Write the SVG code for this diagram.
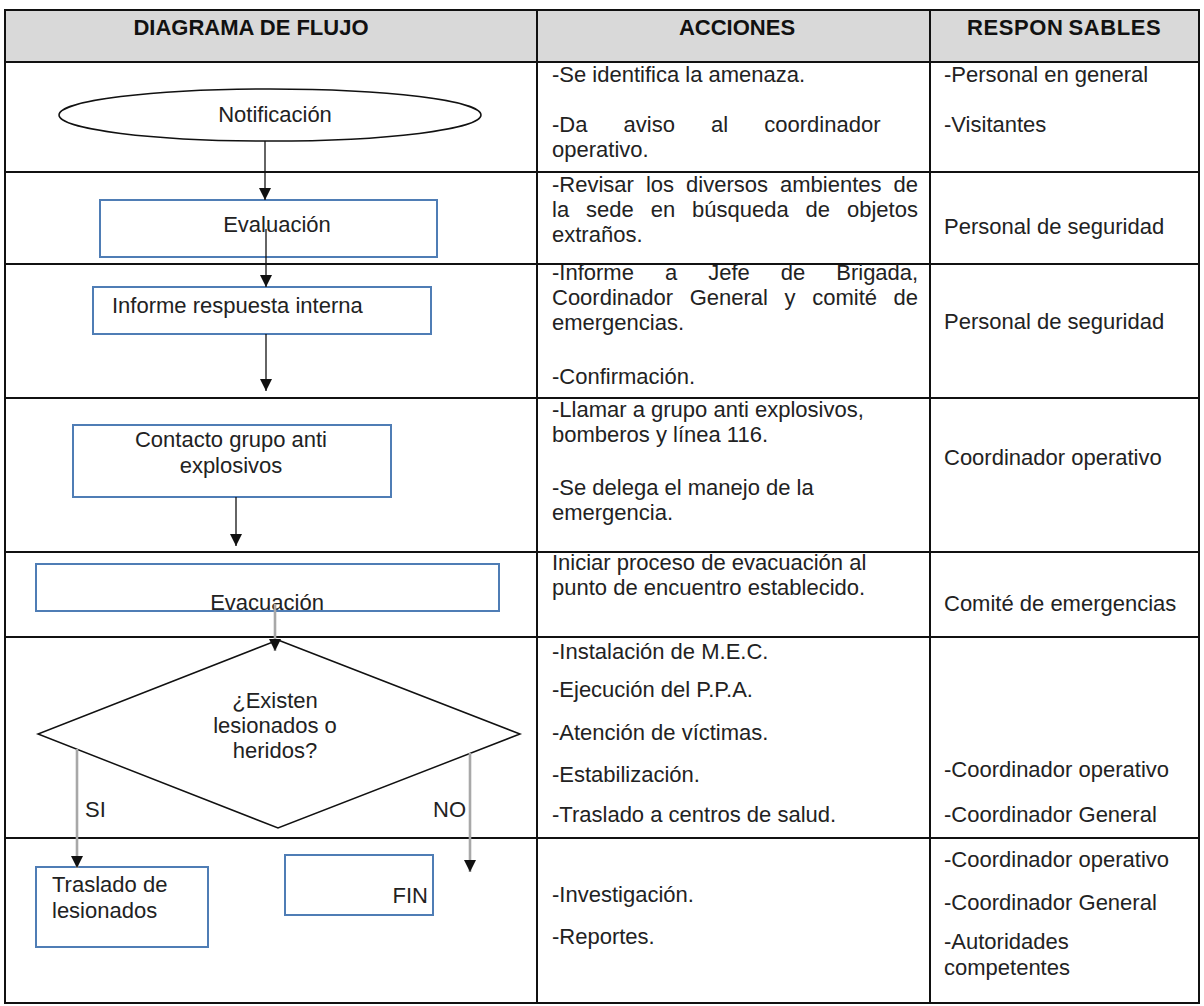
<svg xmlns="http://www.w3.org/2000/svg" width="1204" height="1006" viewBox="0 0 1204 1006">
  <style>
    text { font-family: "Liberation Sans", Arial, sans-serif; font-size: 22px; fill: #222; }
    .hd { font-weight: bold; fill: #111; }
    .grid { stroke: #111; stroke-width: 2; fill: none; }
    .box { fill: #fff; stroke: #4f7db5; stroke-width: 2; }
    .shape { fill: #fff; stroke: #111; stroke-width: 1.5; }
    .flow { stroke: #111; stroke-width: 1.3; fill: none; marker-end: url(#tip); }
    .flow-gray { stroke: #a8a8a8; stroke-width: 2.6; fill: none; marker-end: url(#tip); }
    .mid { text-anchor: middle; }
  </style>
  <defs>
    <marker id="tip" markerUnits="userSpaceOnUse" markerWidth="12" markerHeight="14" refX="12" refY="6" orient="auto">
      <path d="M0,0 L12,6 L0,12 z" fill="#111"/>
    </marker>
  </defs>

  <rect width="1204" height="1006" fill="#fff"/>

  <!-- table frame -->
  <g id="table">
    <rect x="5" y="10" width="1194" height="52" fill="#d9d9d9"/>
    <rect class="grid" x="5" y="10" width="1194" height="993"/>
    <line class="grid" x1="5" y1="62" x2="1199" y2="62"/>
    <line class="grid" x1="5" y1="172" x2="1199" y2="172"/>
    <line class="grid" x1="5" y1="264" x2="1199" y2="264"/>
    <line class="grid" x1="5" y1="398" x2="1199" y2="398"/>
    <line class="grid" x1="5" y1="552" x2="1199" y2="552"/>
    <line class="grid" x1="5" y1="637" x2="1199" y2="637"/>
    <line class="grid" x1="5" y1="838" x2="1199" y2="838"/>
    <line class="grid" x1="537" y1="10" x2="537" y2="1003"/>
    <line class="grid" x1="930" y1="10" x2="930" y2="1003"/>
    <text class="hd mid" x="251" y="35">DIAGRAMA DE FLUJO</text>
    <text class="hd mid" x="737" y="35">ACCIONES</text>
    <text class="hd" x="967" y="35" letter-spacing="0.6">RESPON<tspan dx="5">SABLES</tspan></text>
  </g>

  <!-- flow nodes -->
  <g id="n-notificacion">
    <ellipse class="shape" cx="270" cy="115" rx="211" ry="26"/>
    <text class="mid" x="275" y="122">Notificación</text>
  </g>
  <g id="n-evaluacion">
    <rect class="box" x="100" y="200" width="337" height="57"/>
    <text class="mid" x="277" y="232">Evaluación</text>
  </g>
  <g id="n-informe">
    <rect class="box" x="93" y="287" width="338" height="47"/>
    <text x="112" y="313">Informe respuesta interna</text>
  </g>
  <g id="n-contacto">
    <rect class="box" x="73" y="425" width="318" height="72"/>
    <text class="mid" x="231" y="447">Contacto grupo anti</text>
    <text class="mid" x="231" y="473">explosivos</text>
  </g>
  <g id="n-evacuacion">
    <rect class="box" x="36" y="564" width="463" height="47"/>
    <text class="mid" x="267" y="610">Evacuación</text>
  </g>
  <g id="n-decision">
    <polygon class="shape" points="278,640 520,734 278,828 38,734"/>
    <text class="mid" x="275" y="708">¿Existen</text>
    <text class="mid" x="275" y="733">lesionados o</text>
    <text class="mid" x="275" y="758">heridos?</text>
  </g>
  <g id="n-traslado">
    <rect class="box" x="36" y="867" width="172" height="80"/>
    <text x="52" y="892">Traslado de</text>
    <text x="52" y="918">lesionados</text>
  </g>
  <g id="n-fin">
    <rect class="box" x="285" y="855" width="148" height="60"/>
    <text x="428" y="903" text-anchor="end">FIN</text>
  </g>

  <!-- connectors, drawn over the nodes they pass through -->
  <g id="connectors">
    <line class="flow" x1="265" y1="141" x2="265" y2="200"/>
    <line class="flow" x1="266" y1="229" x2="266" y2="287"/>
    <line class="flow" x1="266" y1="334" x2="266" y2="391"/>
    <line class="flow" x1="236" y1="497" x2="236" y2="546"/>
    <line class="flow-gray" x1="275" y1="604" x2="275" y2="651"/>
    <line class="flow-gray" x1="77" y1="749" x2="77" y2="868"/>
    <line class="flow-gray" x1="470" y1="753" x2="470" y2="872"/>
    <text x="85" y="817">SI</text>
    <text x="466" y="817" text-anchor="end">NO</text>
  </g>

  <!-- acciones column -->
  <g id="acciones">
    <text x="552" y="82">-Se identifica la amenaza.</text>
    <text x="552" y="132" word-spacing="30">-Da aviso al coordinador</text>
    <text x="552" y="157">operativo.</text>

    <text x="552" y="192" word-spacing="5.9">-Revisar los diversos ambientes de</text>
    <text x="552" y="217" word-spacing="10.8">la sede en búsqueda de objetos</text>
    <text x="552" y="242">extraños.</text>

    <text x="552" y="280" word-spacing="24.9">-Informe a Jefe de Brigada,</text>
    <text x="552" y="305" word-spacing="10.5">Coordinador General y comité de</text>
    <text x="552" y="330">emergencias.</text>
    <text x="552" y="384">-Confirmación.</text>

    <text x="552" y="417">-Llamar a grupo anti explosivos,</text>
    <text x="552" y="442">bomberos y línea 116.</text>
    <text x="552" y="495">-Se delega el manejo de la</text>
    <text x="552" y="520">emergencia.</text>

    <text x="552" y="570">Iniciar proceso de evacuación al</text>
    <text x="552" y="595">punto de encuentro establecido.</text>

    <text x="552" y="659">-Instalación de M.E.C.</text>
    <text x="552" y="697">-Ejecución del P.P.A.</text>
    <text x="552" y="740">-Atención de víctimas.</text>
    <text x="552" y="782">-Estabilización.</text>
    <text x="552" y="822">-Traslado a centros de salud.</text>

    <text x="552" y="902">-Investigación.</text>
    <text x="552" y="944">-Reportes.</text>
  </g>

  <!-- responsables column -->
  <g id="responsables">
    <text x="944" y="82">-Personal en general</text>
    <text x="944" y="132">-Visitantes</text>
    <text x="944" y="234">Personal de seguridad</text>
    <text x="944" y="329">Personal de seguridad</text>
    <text x="944" y="465">Coordinador operativo</text>
    <text x="944" y="611">Comité de emergencias</text>
    <text x="944" y="777">-Coordinador operativo</text>
    <text x="944" y="822">-Coordinador General</text>
    <text x="944" y="867">-Coordinador operativo</text>
    <text x="944" y="910">-Coordinador General</text>
    <text x="944" y="949">-Autoridades</text>
    <text x="944" y="975">competentes</text>
  </g>
</svg>
